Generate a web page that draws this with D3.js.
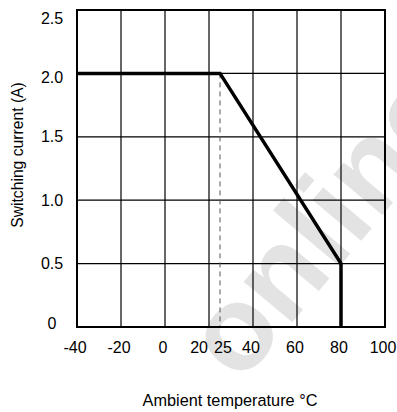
<!DOCTYPE html>
<html>
<head>
<meta charset="utf-8">
<script src="https://cdn.jsdelivr.net/npm/d3@7"></script>
<style>
  body { margin: 0; background: #fff; }
  text { font-family: "Liberation Sans", Arial, sans-serif; fill: #000; }
</style>
</head>
<body>
<div id="chart"></div>
<script>
// derating curve
var tempTicks = [-40, -20, 0, 20, 25, 40, 60, 80, 100];
var gridTemps = [-20, 0, 20, 40, 60, 80];
var currentTicks = [0, 0.5, 1.0, 1.5, 2.0, 2.5];
var curveTemp = [-40, 25, 80, 80];
var curveCurrent = [2.0, 2.0, 0.5, 0];
var refTemp = 25;

var width = 397, height = 412;
var margin = { left: 77, right: 12, top: 10, bottom: 85 };

var svg = d3.select("#chart").append("svg")
    .attr("width", width)
    .attr("height", height);

var x = d3.scaleLinear().domain([-40, 100]).range([margin.left, width - margin.right]);
var y = d3.scaleLinear().domain([0, 2.5]).range([height - margin.bottom, margin.top]);

// watermark behind everything
svg.append("text")
    .attr("transform", "translate(240,385) rotate(-50)")
    .style("font-size", "120px")
    .style("font-weight", "bold")
    .style("fill", "#e3e3e3")
    .text("online");

// grid
svg.append("g").selectAll("line")
    .data(gridTemps)
    .enter().append("line")
    .attr("x1", function (d) { return x(d); })
    .attr("x2", function (d) { return x(d); })
    .attr("y1", y(0))
    .attr("y2", y(2.5))
    .attr("stroke", "#000")
    .attr("stroke-width", 1.2);

svg.append("g").selectAll("line")
    .data(currentTicks.slice(1, -1))
    .enter().append("line")
    .attr("x1", x(-40))
    .attr("x2", x(100))
    .attr("y1", function (d) { return y(d); })
    .attr("y2", function (d) { return y(d); })
    .attr("stroke", "#000")
    .attr("stroke-width", 1.2);

// dashed 25 deg marker
svg.append("line")
    .attr("x1", x(refTemp)).attr("x2", x(refTemp))
    .attr("y1", y(2.0)).attr("y2", y(0))
    .attr("stroke", "#555")
    .attr("stroke-width", 1)
    .attr("stroke-dasharray", "5,4");

// frame
svg.append("rect")
    .attr("x", x(-40))
    .attr("y", y(2.5))
    .attr("width", x(100) - x(-40))
    .attr("height", y(0) - y(2.5))
    .attr("fill", "none")
    .attr("stroke", "#000")
    .attr("stroke-width", 2);

// curve
var line = d3.line()
    .x(function (d, i) { return x(curveTemp[i]); })
    .y(function (d, i) { return y(curveCurrent[i]); });

svg.append("path")
    .datum(curveTemp)
    .attr("d", line)
    .attr("fill", "none")
    .attr("stroke", "#000")
    .attr("stroke-width", 3.5)
    .attr("stroke-linejoin", "miter");

// y tick labels (pulled in at the ends like the original)
svg.append("g").selectAll("text")
    .data(currentTicks)
    .enter().append("text")
    .attr("x", 52)
    .attr("y", function (d) {
        var p = y(d);
        if (d == 2.5) p += 8;
        if (d == 2.0) p += 4;
        if (d == 0) p -= 4;
        return p;
    })
    .attr("dy", "0.35em")
    .attr("text-anchor", "middle")
    .style("font-size", "16px")
    .text(function (d) { return d == 0 ? "0" : d3.format(".1f")(d); });

// x tick labels
svg.append("g").selectAll("text")
    .data(tempTicks)
    .enter().append("text")
    .attr("x", function (d) {
        if (d == 20) return x(d) - 1;
        if (d == 25) return x(d) - 6;
        return x(d) - 2;
    })
    .attr("y", 347)
    .attr("dy", "0.35em")
    .attr("text-anchor", function (d) {
        if (d == 20) return "end";
        if (d == 25) return "start";
        return "middle";
    })
    .style("font-size", "16px")
    .text(function (d) { return d; });

// axis titles
svg.append("text")
    .attr("transform", "translate(23,155) rotate(-90)")
    .attr("text-anchor", "middle")
    .style("font-size", "15.7px")
    .text("Switching current (A)");

svg.append("text")
    .attr("x", 230)
    .attr("y", 400)
    .attr("dy", "0.35em")
    .attr("text-anchor", "middle")
    .style("font-size", "16.3px")
    .text("Ambient temperature °C");
</script>
</body>
</html>
